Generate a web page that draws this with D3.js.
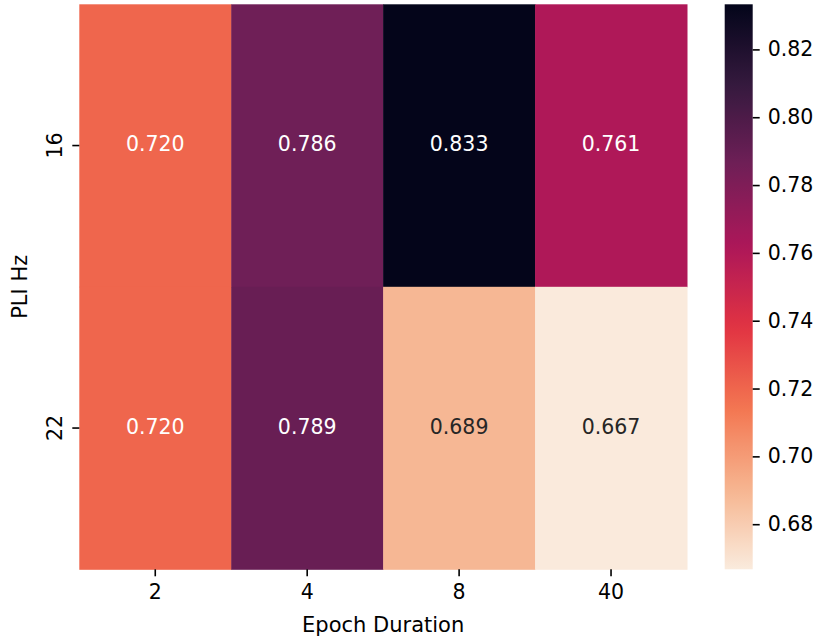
<!DOCTYPE html>
<html>
<head>
<meta charset="utf-8">
<script src="https://cdn.jsdelivr.net/npm/d3@7"></script>
<style>
  html, body { margin: 0; padding: 0; background: #fff; }
  svg { display: block; font-family: "DejaVu Sans", sans-serif; }
</style>
</head>
<body>
<svg id="chart" width="819" height="641"></svg>
<script>
// ---- data ----
const rows = ["16", "22"];              // PLI Hz
const cols = ["2", "4", "8", "40"];     // Epoch Duration
const row16 = [0.720, 0.786, 0.833, 0.761];
const row22 = [0.720, 0.789, 0.689, 0.667];
const values = [row16, row22];
const cbTicks = [0.68, 0.70, 0.72, 0.74, 0.76, 0.78, 0.80, 0.82];
const vmin = 0.6667, vmax = 0.8333;

// rocket colormap stops (seaborn), used reversed
const rocketStops = ["#03051a", "#35193e", "#701f57", "#ad1759", "#e13342", "#f37651", "#f6b48f", "#faebdd"];
const rocketPos = [0, 1/7, 2/7, 3/7, 4/7, 5/7, 6/7, 1];

// ---- layout ----
const svg = d3.select("#chart");
const pLeft = 79.3, pRight = 687, pTop = 4.3, pBottom = 569.3;
const cbLeft = 724.7, cbWidth = 28;

const rocket = d3.scaleLinear().domain(rocketPos).range(rocketStops).interpolate(d3.interpolateRgb).clamp(true);
const norm = d3.scaleLinear().domain([vmin, vmax]).range([1, 0]).clamp(true); // reversed
const color = v => rocket(norm(v));

const x = d3.scaleBand().domain(cols).range([pLeft, pRight]).padding(0);
const y = d3.scaleBand().domain(rows).range([pTop, pBottom]).padding(0);

const cells = [];
rows.forEach((r, i) => cols.forEach((c, j) => cells.push({r, c, v: values[i][j]})));

svg.append("g").selectAll("rect").data(cells).join("rect")
  .attr("x", d => x(d.c)).attr("y", d => y(d.r))
  .attr("width", x.bandwidth() + 0.5).attr("height", y.bandwidth() + 0.5)
  .attr("fill", d => color(d.v));

// annotations
function textColor(v) {
  const c = d3.rgb(color(v));
  const lum = [c.r, c.g, c.b].map(u => { u /= 255; return u <= 0.03928 ? u / 12.92 : Math.pow((u + 0.055) / 1.055, 2.4); });
  const L = 0.2126 * lum[0] + 0.7152 * lum[1] + 0.0722 * lum[2];
  return L > 0.408 ? "#262626" : "#ffffff";
}
svg.append("g").selectAll("text").data(cells).join("text")
  .attr("x", d => x(d.c) + x.bandwidth() / 2)
  .attr("y", d => y(d.r) + y.bandwidth() / 2)
  .attr("dy", "0.28em")
  .attr("text-anchor", "middle")
  .attr("font-size", 20.5)
  .attr("fill", d => textColor(d.v))
  .text(d => d.v.toFixed(3));

// x axis
const xAxis = d3.axisBottom(x).tickSize(7).tickPadding(8);
const gx = svg.append("g").attr("transform", `translate(0,${pBottom})`).call(xAxis);
gx.select(".domain").remove();
gx.selectAll(".tick line").attr("stroke", "#000").attr("stroke-width", 1.6);
gx.selectAll(".tick text").attr("font-size", 20.5).attr("fill", "#000").attr("font-family", "DejaVu Sans");

svg.append("text").attr("x", (pLeft + pRight) / 2).attr("y", 632)
  .attr("text-anchor", "middle").attr("font-size", 21).attr("fill", "#000")
  .text("Epoch Duration");

// y axis
const yAxis = d3.axisLeft(y).tickSize(7).tickPadding(8);
const gy = svg.append("g").attr("transform", `translate(${pLeft},0)`).call(yAxis);
gy.select(".domain").remove();
gy.selectAll(".tick line").attr("stroke", "#000").attr("stroke-width", 1.6);
gy.selectAll(".tick text")
  .attr("font-size", 20.5).attr("fill", "#000").attr("font-family", "DejaVu Sans")
  .attr("x", 0).attr("y", 0).attr("dy", null)
  .attr("text-anchor", "middle")
  .attr("transform", `translate(${62 - pLeft},0) rotate(-90)`);

svg.append("text")
  .attr("transform", `translate(27.3,${(pTop + pBottom) / 2}) rotate(-90)`)
  .attr("text-anchor", "middle").attr("font-size", 21).attr("fill", "#000")
  .text("PLI Hz");

// colorbar
const cbScale = d3.scaleLinear().domain([vmin, vmax]).range([pBottom, pTop]);
const defs = svg.append("defs");
const grad = defs.append("linearGradient").attr("id", "cbgrad")
  .attr("x1", 0).attr("y1", 1).attr("x2", 0).attr("y2", 0);
d3.range(0, 1.0001, 0.02).forEach(t => {
  grad.append("stop").attr("offset", t).attr("stop-color", color(vmin + t * (vmax - vmin)));
});
svg.append("rect").attr("x", cbLeft).attr("y", pTop).attr("width", cbWidth)
  .attr("height", pBottom - pTop).attr("fill", "url(#cbgrad)");

const cbAxis = d3.axisRight(cbScale).tickValues(cbTicks).tickFormat(d3.format(".2f")).tickSize(7).tickPadding(8);
const gc = svg.append("g").attr("transform", `translate(${cbLeft + cbWidth},0)`).call(cbAxis);
gc.select(".domain").remove();
gc.selectAll(".tick line").attr("stroke", "#000").attr("stroke-width", 1.6);
gc.selectAll(".tick text").attr("font-size", 20.5).attr("fill", "#000").attr("font-family", "DejaVu Sans");
</script>
</body>
</html>
